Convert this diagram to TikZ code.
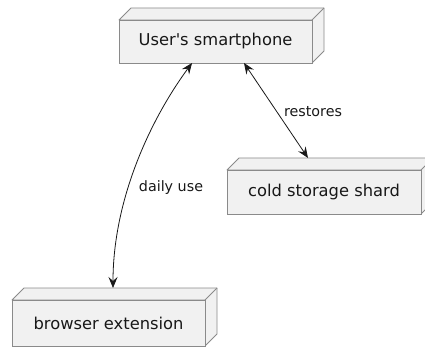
\documentclass[tikz,border=0pt]{standalone}
\usepackage{fontspec}
\setmainfont{DejaVu Sans}[Ligatures=TeXOff]
\usetikzlibrary{arrows.meta,calc}
\definecolor{boxfill}{HTML}{F1F1F1}
\definecolor{boxline}{HTML}{8A8A8A}
\definecolor{ink}{HTML}{181818}
\tikzset{
  box/.style={draw=boxline, fill=boxfill, line width=0.8pt, outer sep=0pt,
    text=ink, font=\fontsize{16.3}{19}\selectfont},
  face/.style={draw=boxline, fill=boxfill, line width=0.8pt, line join=round},
  tip/.tip={Stealth[length=11pt,width=9pt,inset=4pt]},
  link/.style={draw=ink, line width=0.8pt, tip-tip},
  lbl/.style={text=ink, font=\fontsize{14.3}{16}\selectfont}
}
% top and right faces of a node box, drawn behind the front face
\newcommand\boxfaces[1]{%
  \path[face] (#1.north west) -- ++(12,-12) -- ([shift={(12,-12)}]#1.north east)
    -- ([shift={(12,-12)}]#1.south east) -- (#1.south east) -- (#1.north east) -- cycle;
  \draw[face, fill=none] (#1.north east) -- ++(12,-12);
}
\begin{document}
\begin{tikzpicture}[x=1pt, y={(0pt,-1pt)}]
  \useasboundingbox (0,0) rectangle (425,347);
  \node[box, minimum width=193pt, minimum height=43pt] (phone) at (215.5,41.5) {User's smartphone};
  \node[box, minimum width=194pt, minimum height=44pt] (cold) at (324,192) {cold storage shard};
  \node[box, minimum width=193pt, minimum height=46pt] (ext) at (108.5,323) {browser extension};
  \boxfaces{phone}
  \boxfaces{cold}
  \boxfaces{ext}
  % front faces again on top of the side faces
  \node[box, minimum width=193pt, minimum height=43pt] at (phone) {User's smartphone};
  \node[box, minimum width=194pt, minimum height=44pt] at (cold) {cold storage shard};
  \node[box, minimum width=193pt, minimum height=46pt] at (ext) {browser extension};

  \coordinate (phoneA) at ([xshift=-23.5pt]phone.south);
  \coordinate (phoneB) at ([xshift=28.5pt]phone.south);
  \coordinate (extTop) at ([shift={(101,-12)}]ext.north west);
  \coordinate (coldTop) at ([shift={(81,-12)}]cold.north west);

  \draw[link] (phoneA) .. controls (150,120) and (113,200) .. (extTop);
  \draw[link] (phoneB) -- (coldTop);
  \node[lbl] (daily) at (171,188) {daily use};
  \node[lbl] (rest) at (313,112) {restores};
\end{tikzpicture}
\end{document}
